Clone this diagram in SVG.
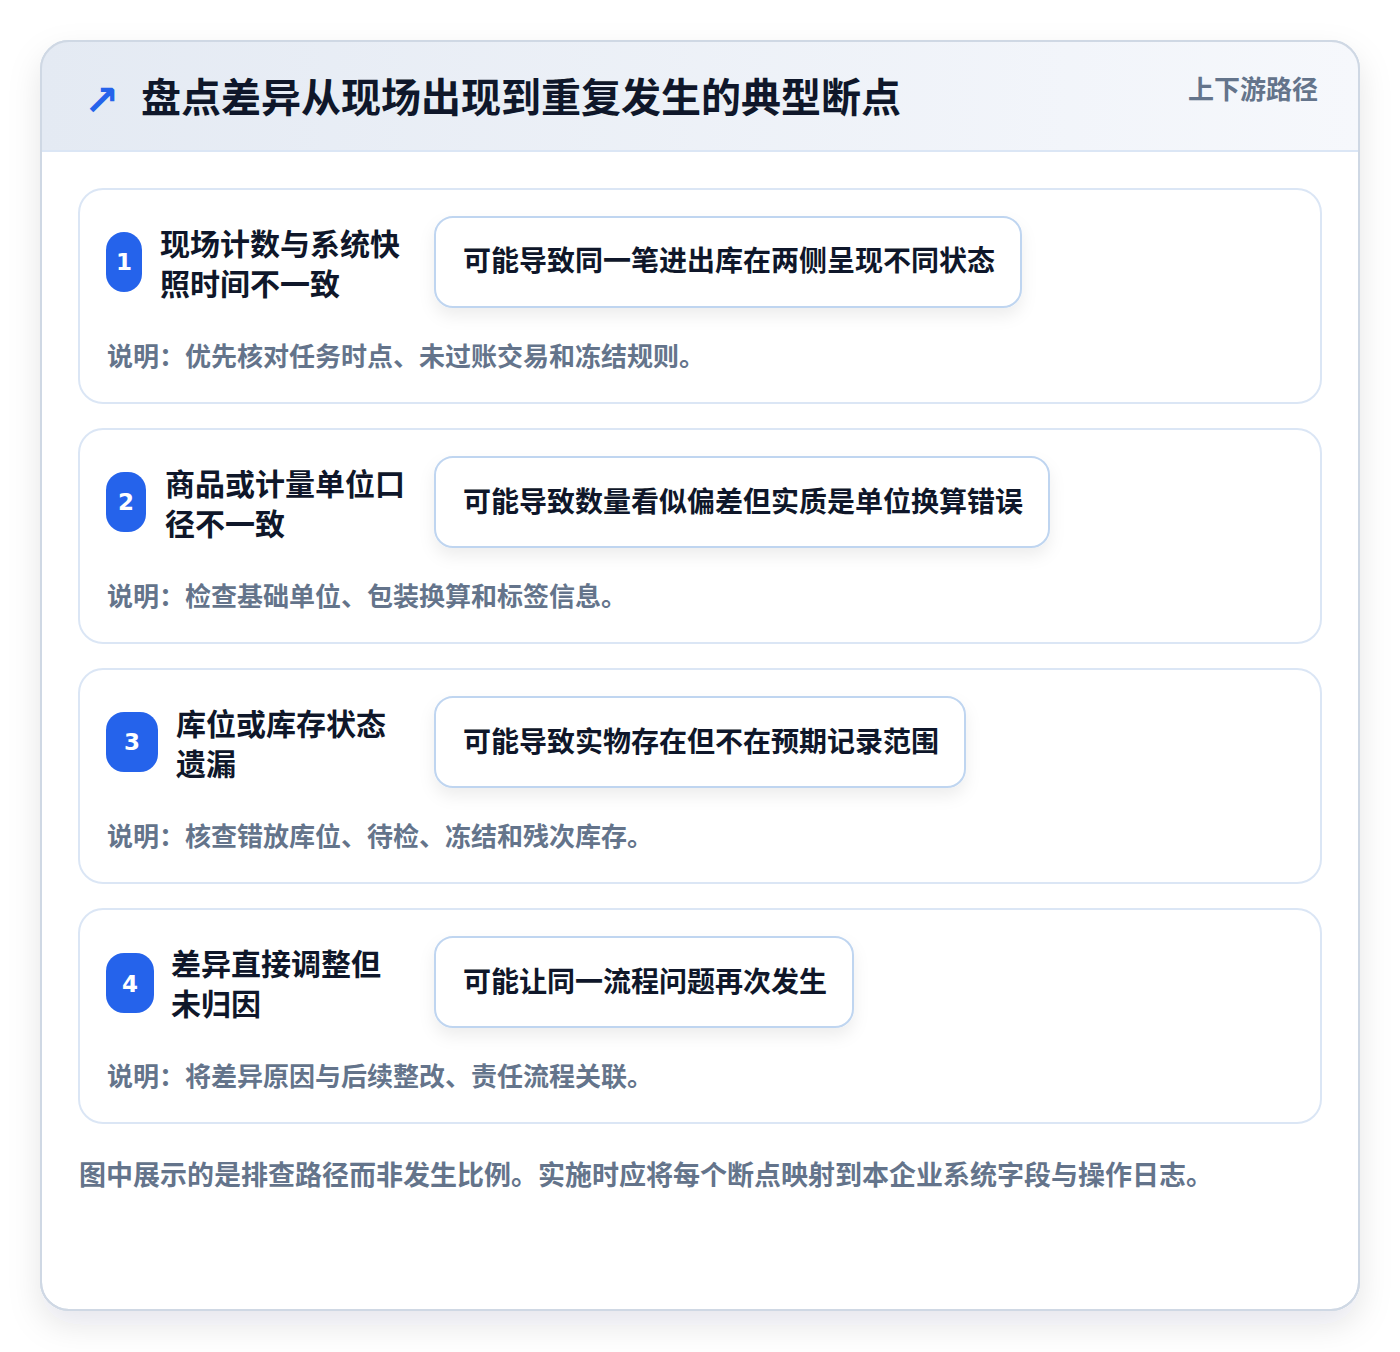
<svg xmlns="http://www.w3.org/2000/svg" width="1400" height="1352" viewBox="0 0 1400 1352">
<defs>
<linearGradient id="hdr" x1="0" y1="0" x2="1" y2="0">
<stop offset="0" stop-color="#e4eaf3"/>
<stop offset="1" stop-color="#f6f8fc"/>
</linearGradient>
<filter id="sh" x="-10%" y="-10%" width="120%" height="120%">
<feDropShadow dx="0" dy="14" stdDeviation="16" flood-color="#0f172a" flood-opacity="0.10"/>
</filter>
<filter id="psh" x="-10%" y="-30%" width="120%" height="170%">
<feDropShadow dx="0" dy="8" stdDeviation="8" flood-color="#0f172a" flood-opacity="0.07"/>
</filter>
<clipPath id="cardclip"><rect x="41" y="41" width="1318" height="1269" rx="28"/></clipPath>
<style>
.t{font-family:"Noto Sans CJK SC","Noto Sans",sans-serif;font-weight:700}
.title{font-size:40px;fill:#0f172a}
.tag{font-size:26px;fill:#64748b}
.row{fill:#ffffff;stroke:#dbe6f5;stroke-width:2}
.badge{fill:#2563eb}
.bnum{font-size:23px;fill:#ffffff;font-family:"DejaVu Sans","Liberation Sans",sans-serif;font-weight:700}
.head{font-size:30px;fill:#0f172a}
.pill{fill:#ffffff;stroke:#bfd5f0;stroke-width:2}
.ptxt{font-size:28px;fill:#0f172a}
.note{font-size:26px;fill:#64748b}
.foot{font-size:27px;fill:#64748b}
</style>
</defs>
<rect width="1400" height="1352" fill="#ffffff"/>
<g id="card">
<rect x="41" y="41" width="1318" height="1269" rx="28" fill="#ffffff" stroke="#cfd8e4" stroke-width="2" filter="url(#sh)"/>
<g clip-path="url(#cardclip)">
<rect x="41" y="41" width="1318" height="110" fill="url(#hdr)"/>
<line x1="41" y1="151" x2="1359" y2="151" stroke="#dbe6f5" stroke-width="2"/>
</g>
<rect x="41" y="41" width="1318" height="1269" rx="28" fill="none" stroke="#cfd8e4" stroke-width="2"/>
</g>
<g id="header">
<text x="84" y="115" font-family="DejaVu Sans,sans-serif" font-weight="700" font-size="42" fill="#2563eb">↗</text>
<text class="t title" x="141" y="112">盘点差异从现场出现到重复发生的典型断点</text>
<text class="t tag" x="1318" y="99" text-anchor="end">上下游路径</text>
</g>
<g id="connectors"></g>
<g id="node1">
<rect class="row" x="79" y="189" width="1242" height="214" rx="24"/>
<rect class="badge" x="106" y="232" width="36" height="60" rx="18"/>
<text class="bnum" x="124" y="270" text-anchor="middle">1</text>
<text class="t head" x="160" y="255">现场计数与系统快</text>
<text class="t head" x="160" y="295">照时间不一致</text>
<rect class="pill" x="435" y="217" width="586" height="90" rx="18" filter="url(#psh)"/>
<text class="t ptxt" x="463" y="271">可能导致同一笔进出库在两侧呈现不同状态</text>
<text class="t note" x="107" y="366">说明：优先核对任务时点、未过账交易和冻结规则。</text>
</g>
<g id="node2">
<rect class="row" x="79" y="429" width="1242" height="214" rx="24"/>
<rect class="badge" x="106" y="472" width="40" height="60" rx="18"/>
<text class="bnum" x="126" y="510" text-anchor="middle">2</text>
<text class="t head" x="165" y="495">商品或计量单位口</text>
<text class="t head" x="165" y="535">径不一致</text>
<rect class="pill" x="435" y="457" width="614" height="90" rx="18" filter="url(#psh)"/>
<text class="t ptxt" x="463" y="512">可能导致数量看似偏差但实质是单位换算错误</text>
<text class="t note" x="107" y="606">说明：检查基础单位、包装换算和标签信息。</text>
</g>
<g id="node3">
<rect class="row" x="79" y="669" width="1242" height="214" rx="24"/>
<rect class="badge" x="106" y="712" width="52" height="60" rx="18"/>
<text class="bnum" x="132" y="750" text-anchor="middle">3</text>
<text class="t head" x="176" y="735">库位或库存状态</text>
<text class="t head" x="176" y="775">遗漏</text>
<rect class="pill" x="435" y="697" width="530" height="90" rx="18" filter="url(#psh)"/>
<text class="t ptxt" x="463" y="752">可能导致实物存在但不在预期记录范围</text>
<text class="t note" x="107" y="846">说明：核查错放库位、待检、冻结和残次库存。</text>
</g>
<g id="node4">
<rect class="row" x="79" y="909" width="1242" height="214" rx="24"/>
<rect class="badge" x="106" y="953" width="48" height="60" rx="18"/>
<text class="bnum" x="130" y="992" text-anchor="middle">4</text>
<text class="t head" x="171" y="975">差异直接调整但</text>
<text class="t head" x="171" y="1015">未归因</text>
<rect class="pill" x="435" y="937" width="418" height="90" rx="18" filter="url(#psh)"/>
<text class="t ptxt" x="463" y="992">可能让同一流程问题再次发生</text>
<text class="t note" x="107" y="1086">说明：将差异原因与后续整改、责任流程关联。</text>
</g>
<g id="footer">
<text class="t foot" x="79" y="1185">图中展示的是排查路径而非发生比例。实施时应将每个断点映射到本企业系统字段与操作日志。</text>
</g>
</svg>
